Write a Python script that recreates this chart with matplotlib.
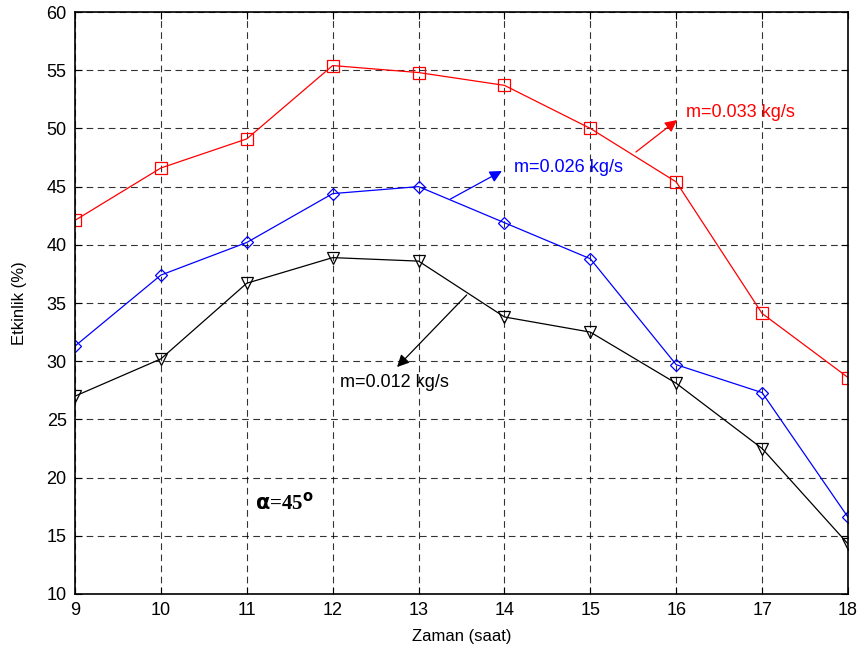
#!/usr/bin/env python3
import matplotlib
matplotlib.use("Agg")
import matplotlib.pyplot as plt
import numpy as np

plt.rcParams['font.family'] = ['Liberation Sans', 'DejaVu Sans']
myFontSize = 13

saat = np.arange(9, 19)
m033 = [42.1, 46.6, 49.1, 55.4, 54.8, 53.7, 50.0, 45.4, 34.1, 28.6]
m026 = [31.3, 37.4, 40.2, 44.4, 45.0, 41.9, 38.8, 29.7, 27.3, 16.6]
m012 = [27.0, 30.2, 36.7, 38.9, 38.6, 33.8, 32.5, 28.1, 22.5, 14.3]

fig = plt.figure(figsize=(8.64, 6.57), dpi=100)
ax = fig.add_axes([0.0868, 0.0959, 0.8947, 0.8858])

ax.plot(saat, m033, color='red', lw=0.9, marker='s', ms=8.5, mfc='none', mew=0.9)
ax.plot(saat, m026, color='blue', lw=0.9, marker='D', ms=6.5, mfc='none', mew=0.9)
ax.plot(saat, m012, color='black', lw=0.9, marker='v', ms=9, mfc='none', mew=0.9)

ax.set_xlim(9, 18)
ax.set_ylim(10, 60)
ax.set_xticks(np.arange(9, 19))
ax.set_yticks(np.arange(10, 61, 5))
ax.grid(True, color='black', linestyle=(0, (6, 4)), linewidth=0.8, alpha=0.8)
ax.tick_params(direction='in', top=True, right=True, labelsize=myFontSize, length=5)
ax.tick_params(axis='y', pad=6)
ax.tick_params(axis='x', pad=6)
for s in ax.spines.values():
    s.set_linewidth(1.2)

ax.set_xlabel("Zaman (saat)", fontsize=12, labelpad=7)
ax.set_ylabel("Etkinlik (%)", fontsize=12, labelpad=14)

arr = dict(arrowstyle='-|>', mutation_scale=18, lw=0.9, shrinkA=0, shrinkB=0)
ax.annotate('', xy=(16.01, 50.72), xytext=(15.53, 47.97), arrowprops=dict(arr, color='red'))
ax.text(16.11, 51.41, "m=0.033 kg/s", color='red', fontsize=myFontSize, va='center')
ax.annotate('', xy=(13.97, 46.34), xytext=(13.37, 43.93), arrowprops=dict(arr, color='blue'))
ax.text(14.11, 46.68, "m=0.026 kg/s", color='blue', fontsize=myFontSize, va='center')
ax.annotate('', xy=(12.75, 29.5), xytext=(13.56, 35.69), arrowprops=dict(arr, color='black'))
ax.text(12.08, 28.13, "m=0.012 kg/s", color='black', fontsize=myFontSize, va='center')

ax.text(11.10, 17.8, r"$\mathbf{\alpha}$=45$^{\mathbf{o}}$", fontsize=15, fontweight='bold',
        family='Liberation Serif', va='center')

fig.savefig('out.png', dpi=100)
